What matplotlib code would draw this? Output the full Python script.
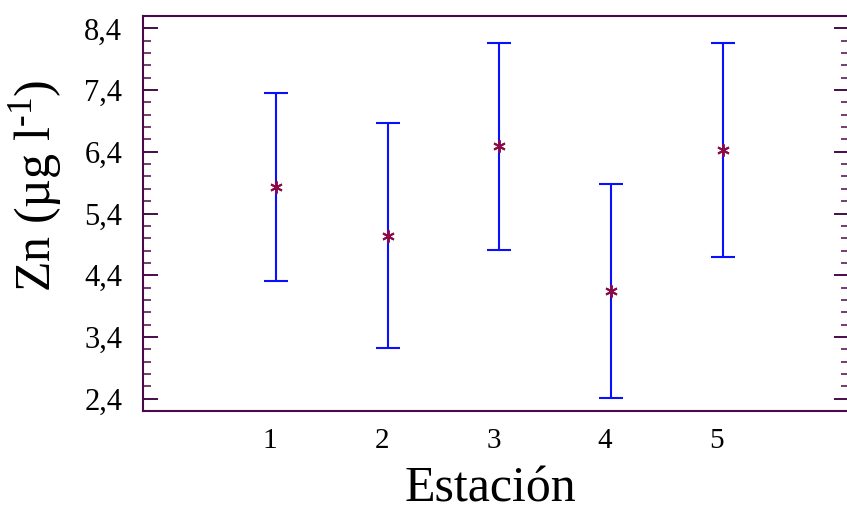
import matplotlib

matplotlib.use("Agg")
import matplotlib.pyplot as plt
from matplotlib.ticker import FixedLocator, MultipleLocator, FuncFormatter
from matplotlib.transforms import ScaledTranslation

plt.rcParams["font.family"] = ["Liberation Serif", "DejaVu Serif"]
plt.rcParams["mathtext.fontset"] = "custom"
plt.rcParams["mathtext.rm"] = "Liberation Serif"

# Zn means per station with interval limits (µg l-1)
estaciones = [1, 2, 3, 4, 5]
media = [5.83, 5.04, 6.49, 4.15, 6.43]
limite_sup = [7.35, 6.86, 8.17, 5.88, 8.16]
limite_inf = [4.31, 3.22, 4.81, 2.41, 4.69]
yticks = [2.4, 3.4, 4.4, 5.4, 6.4, 7.4, 8.4]

SPINE = "#4a0a4a"
W, H = 847, 513

fig = plt.figure(figsize=(W / 100, H / 100), dpi=100)
ax = fig.add_axes([143 / W, 1 - 411 / H, (849 - 143) / W, (411 - 16) / H])

err = [[m - lo for m, lo in zip(media, limite_inf)],
       [hi - m for m, hi in zip(media, limite_sup)]]
ax.errorbar(estaciones, media, yerr=err, fmt="none", ecolor="#0a10ff",
            elinewidth=1.5, capsize=8.5, capthick=1.5, zorder=2)
ax.plot(estaciones, media, linestyle="none", marker=(6, 2, 0), markersize=9,
        markeredgewidth=1.4, color="#8a0a4a", zorder=3)

ax.set_xlim(-0.19, 6.13)
ax.set_ylim(2.2, 8.6)

ax.yaxis.set_major_locator(FixedLocator(yticks))
ax.yaxis.set_minor_locator(MultipleLocator(0.2))
ax.yaxis.set_major_formatter(FuncFormatter(lambda v, _: f"{v:.1f}".replace(".", ",")))
ax.set_xticks(estaciones)

ax.tick_params(axis="y", which="major", direction="in", length=11, width=1.4,
               color=SPINE, labelsize=22, pad=15, right=True)
ax.tick_params(axis="y", which="minor", direction="in", length=6, width=1.1,
               color=SPINE, right=True)
ax.tick_params(axis="x", length=0, labelsize=21, pad=12)

# station numbers sit a little left of their bars
shift = ScaledTranslation(-6 / 100, 0, fig.dpi_scale_trans)
for lbl in ax.get_xticklabels():
    lbl.set_transform(lbl.get_transform() + shift)

for side in ("left", "top", "bottom"):
    ax.spines[side].set_color(SPINE)
    ax.spines[side].set_linewidth(1.5)
ax.spines["right"].set_visible(False)

ax.set_xlabel("Estación", fontsize=36)
ax.xaxis.set_label_coords((490 - 143) / 706, -0.14)
ax.set_ylabel(r"Zn (µg l$^{\text{-1}}$)", fontsize=36)
ax.yaxis.set_label_coords(-0.111, 0.57)

fig.savefig("out.png", dpi=100)
